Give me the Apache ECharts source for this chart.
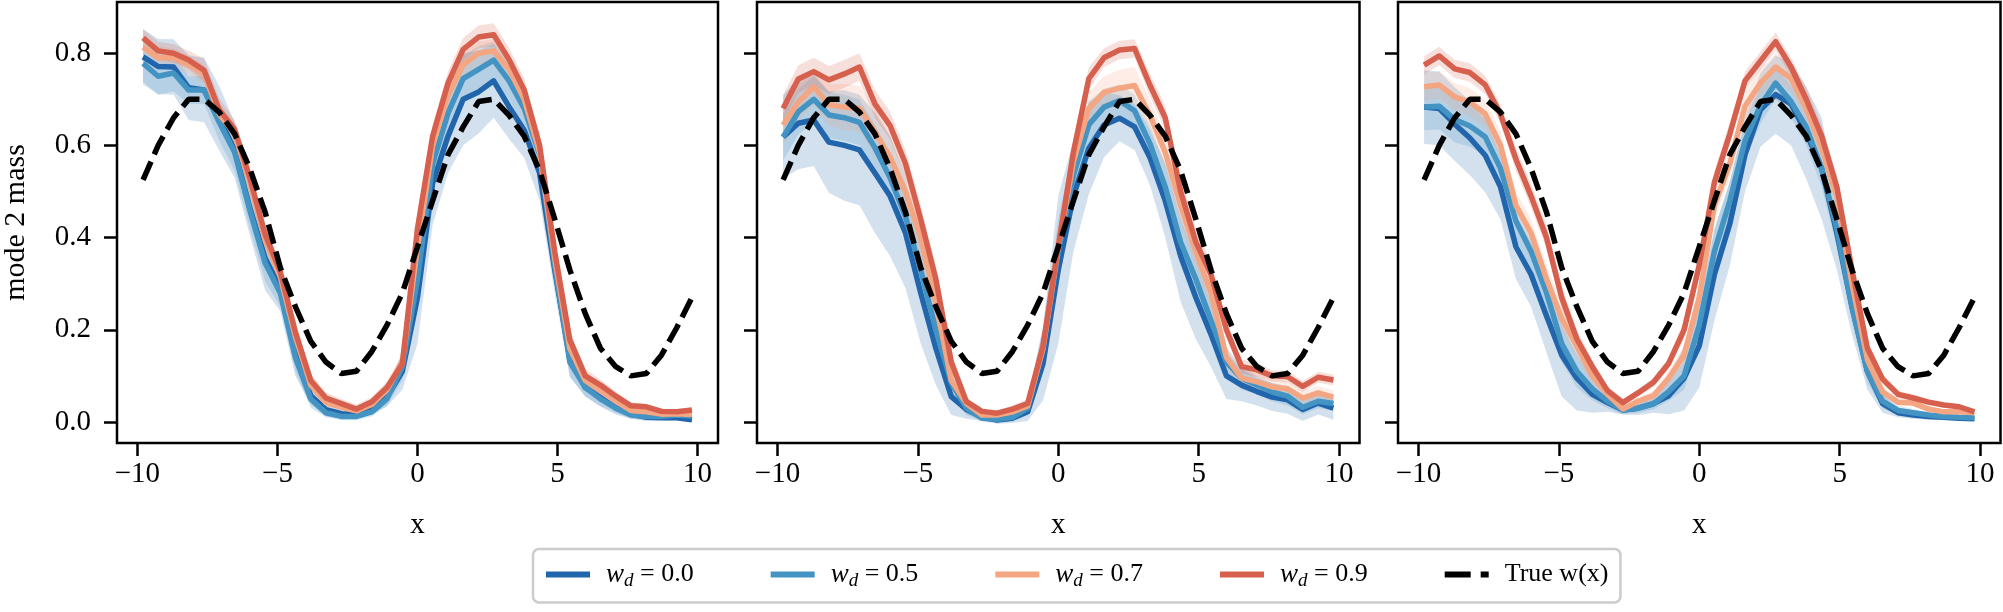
<!DOCTYPE html>
<html>
<head>
<meta charset="utf-8">
<script src="https://cdn.jsdelivr.net/npm/echarts@6/dist/echarts.min.js"></script>
<style>
html, body { margin: 0; padding: 0; background: #fff; }
#chart { width: 2003px; height: 612px; }
</style>
</head>
<body>
<div id="chart"></div>
<script>
// x grid shared by every curve
var xs = [-9.80, -9.26, -8.71, -8.17, -7.62, -7.08, -6.53, -5.99, -5.44, -4.90, -4.36, -3.81, -3.27,
    -2.72, -2.18, -1.63, -1.09, -0.54, 0.00, 0.54, 1.09, 1.63, 2.18, 2.72, 3.27, 3.81, 4.36, 4.90,
    5.44, 5.99, 6.53, 7.08, 7.62, 8.17, 8.71, 9.26, 9.80];

// true w(x), same in all three panels
var trueW = [.525, .60, .66, .70, .70, .672, .625, .55, .455, .335, .25, .175, .13, .105, .11, .153, .21, .28,
    .38, .48, .58, .64, .695, .70, .665, .62, .545, .44, .33, .235, .16, .12, .10, .105, .145, .205, .27];

// panel 1 means
var p1w0 = [.792, .771, .77, .725, .72, .659, .59, .465, .355, .29, .15, .057, .027, .018, .017, .027, .054, .11,
    .27, .518, .62, .70, .716, .74, .684, .633, .54, .33, .137, .075, .053, .031, .017, .01, .009, .009, .005];
var p1w5 = [.778, .75, .757, .72, .72, .65, .585, .46, .345, .28, .14, .05, .02, .012, .012, .022, .05, .12,
    .31, .56, .67, .745, .765, .785, .74, .68, .58, .34, .13, .075, .05, .03, .015, .012, .012, .015, .013];
var p1w7 = [.813, .79, .79, .775, .755, .668, .625, .52, .395, .315, .185, .08, .042, .032, .024, .038, .07, .13,
    .38, .60, .71, .775, .80, .805, .765, .70, .585, .355, .16, .09, .068, .045, .025, .022, .017, .018, .016];
var p1w9 = [.833, .805, .80, .785, .763, .677, .635, .53, .407, .326, .195, .09, .052, .04, .028, .044, .075, .126,
    .42, .62, .735, .808, .835, .84, .786, .72, .60, .37, .178, .10, .08, .056, .035, .033, .023, .022, .026];
// panel 1 band half widths
var e1w0 = [.06, .06, .06, .07, .07, .07, .06, .06, .07, .05, .05, .02, .015, .01, .01, .01, .02, .04,
    .1, .09, .08, .1, .09, .08, .07, .06, .06, .05, .04, .02, .02, .015, .01, .008, .006, .006, .005];
var e1w5 = [.04, .04, .04, .03, .03, .04, .04, .04, .04, .03, .03, .02, .01, .008, .008, .01, .015, .03,
    .06, .05, .05, .05, .05, .04, .04, .04, .04, .04, .03, .02, .015, .01, .008, .006, .005, .005, .005];
var e1w7 = [.025, .025, .02, .02, .02, .025, .025, .03, .03, .025, .02, .015, .01, .01, .01, .01, .015, .02,
    .03, .03, .03, .025, .025, .025, .025, .03, .03, .03, .02, .015, .01, .01, .008, .006, .005, .005, .005];
var e1w9 = [.02, .02, .02, .02, .025, .025, .02, .02, .02, .02, .02, .015, .012, .01, .01, .01, .012, .02,
    .025, .025, .025, .025, .025, .025, .025, .025, .025, .02, .02, .015, .012, .01, .008, .006, .006, .005, .005];

// panel 2 means
var p2w0 = [.618, .648, .655, .607, .60, .59, .54, .49, .41, .28, .16, .055, .027, .01, .004, .008, .022, .127,
    .33, .49, .594, .644, .659, .64, .573, .48, .36, .27, .19, .10, .08, .066, .054, .048, .027, .041, .03];
var p2w5 = [.618, .673, .70, .666, .66, .65, .595, .53, .445, .33, .20, .085, .03, .008, .006, .01, .03, .16,
    .37, .535, .645, .683, .697, .675, .603, .51, .39, .31, .22, .13, .095, .08, .065, .056, .032, .045, .04];
var p2w7 = [.644, .694, .727, .688, .683, .68, .63, .575, .50, .40, .26, .09, .04, .015, .015, .022, .035, .16,
    .38, .565, .68, .715, .724, .73, .665, .585, .47, .37, .28, .14, .095, .087, .076, .072, .052, .063, .054];
var p2w9 = [.68, .744, .76, .742, .755, .77, .69, .643, .56, .44, .31, .13, .044, .023, .019, .028, .04, .165,
    .38, .585, .745, .79, .807, .81, .73, .66, .50, .39, .32, .20, .12, .113, .10, .098, .077, .097, .091];
var e2w0 = [.09, .1, .1, .11, .12, .12, .13, .13, .12, .11, .08, .04, .02, .008, .008, .01, .02, .08,
    .16, .12, .1, .07, .05, .05, .06, .08, .1, .09, .07, .05, .035, .03, .03, .03, .025, .025, .025];
var e2w5 = [.05, .05, .05, .05, .05, .05, .05, .05, .05, .05, .04, .03, .015, .006, .006, .008, .015, .05,
    .07, .06, .05, .04, .035, .035, .04, .05, .05, .05, .04, .03, .025, .02, .02, .02, .015, .015, .015];
var e2w7 = [.04, .04, .04, .045, .05, .05, .05, .045, .04, .04, .035, .025, .012, .006, .006, .008, .012, .04,
    .05, .04, .035, .035, .04, .04, .035, .035, .04, .04, .035, .025, .02, .02, .02, .015, .015, .015, .015];
var e2w9 = [.03, .03, .03, .03, .03, .03, .03, .03, .03, .03, .03, .02, .01, .006, .006, .008, .01, .03,
    .04, .03, .025, .02, .02, .02, .025, .025, .03, .03, .025, .02, .015, .015, .012, .012, .012, .012, .012];

// panel 3 means
var p3w0 = [.683, .68, .646, .616, .578, .51, .38, .32, .23, .145, .095, .06, .042, .026, .03, .04, .057, .095,
    .165, .32, .43, .58, .677, .71, .69, .627, .55, .41, .25, .11, .04, .02, .015, .012, .01, .008, .007];
var p3w5 = [.683, .685, .656, .642, .618, .55, .436, .37, .28, .17, .11, .072, .045, .026, .03, .039, .066, .10,
    .21, .37, .48, .61, .687, .735, .695, .64, .55, .42, .25, .11, .045, .025, .02, .015, .012, .01, .009];
var p3w7 = [.727, .731, .705, .694, .668, .60, .47, .41, .31, .225, .165, .10, .06, .028, .045, .057, .095, .145,
    .27, .47, .56, .685, .735, .77, .745, .68, .595, .49, .30, .135, .065, .043, .041, .028, .022, .022, .02];
var p3w9 = [.774, .794, .766, .758, .731, .668, .57, .49, .40, .27, .18, .12, .068, .042, .063, .086, .127, .20,
    .34, .52, .625, .74, .783, .825, .77, .70, .62, .51, .33, .16, .093, .06, .052, .043, .037, .033, .022];
var e3w0 = [.08, .08, .08, .08, .08, .07, .07, .07, .08, .09, .07, .04, .02, .01, .015, .02, .04, .07,
    .09, .1, .09, .08, .08, .085, .09, .1, .11, .08, .06, .04, .02, .01, .008, .007, .006, .005, .005];
var e3w5 = [.05, .05, .05, .045, .04, .04, .04, .04, .04, .04, .035, .025, .015, .01, .01, .012, .02, .03,
    .04, .045, .045, .04, .04, .035, .035, .04, .04, .04, .035, .025, .015, .01, .008, .006, .005, .005, .005];
var e3w7 = [.03, .03, .03, .03, .03, .03, .03, .03, .03, .03, .025, .02, .012, .008, .008, .01, .015, .02,
    .03, .03, .03, .03, .03, .03, .03, .03, .03, .03, .025, .02, .012, .008, .006, .006, .005, .005, .005];
var e3w9 = [.02, .02, .02, .02, .02, .02, .025, .025, .025, .025, .02, .015, .01, .008, .008, .01, .012, .02,
    .025, .025, .025, .02, .02, .02, .02, .025, .025, .025, .02, .015, .012, .008, .008, .006, .006, .005, .005];

var xTicks = [-10, -5, 0, 5, 10];
var yTicks = [0, 0.2, 0.4, 0.6, 0.8];
var seriesNames = ['w0', 'w5', 'w7', 'w9'];
var labelNums = ['0.0', '0.5', '0.7', '0.9'];

var colors = ['#2166ac', '#4393c3', '#f4a582', '#d6604d'];
var fills = ['rgba(33,102,172,0.2)', 'rgba(67,147,195,0.2)', 'rgba(244,165,130,0.2)', 'rgba(214,96,77,0.2)'];
var font = 'Liberation Serif';
var dash = [20, 8];

var panels = [
    { lines: [p1w0, p1w5, p1w7, p1w9], errs: [e1w0, e1w5, e1w7, e1w9] },
    { lines: [p2w0, p2w5, p2w7, p2w9], errs: [e2w0, e2w5, e2w7, e2w9] },
    { lines: [p3w0, p3w5, p3w7, p3w9], errs: [e3w0, e3w5, e3w7, e3w9] }
];
var gridLefts = [115.5, 757, 1398];

function pairs(vals) {
    return xs.map(function (x, i) { return [x, vals[i]]; });
}

function band(p, vals, errs, fill) {
    var rows = xs.map(function (x, i) { return [x, vals[i] - errs[i], vals[i] + errs[i]]; });
    return {
        type: 'custom', xAxisIndex: p, yAxisIndex: p, silent: true, z: 1,
        encode: { x: 0, y: [1, 2] },
        data: rows,
        renderItem: function (params, api) {
            if (params.dataIndex !== 0) return;
            var up = [], dn = [];
            for (var i = 0; i < rows.length; i++) {
                up.push(api.coord([rows[i][0], rows[i][2]]));
                dn.unshift(api.coord([rows[i][0], rows[i][1]]));
            }
            return { type: 'polygon', shape: { points: up.concat(dn) }, style: { fill: fill } };
        }
    };
}

var grids = [], xAxes = [], yAxes = [], series = [];
panels.forEach(function (pan, p) {
    grids.push({
        left: gridLefts[p], top: 2, width: 602.5, height: 441,
        show: true, borderColor: '#000', borderWidth: 2.5, backgroundColor: 'transparent'
    });
    xAxes.push({
        gridIndex: p, type: 'value', min: -10.73, max: 10.73, position: 'bottom',
        name: 'x', nameLocation: 'middle', nameGap: 68,
        nameTextStyle: { fontFamily: font, fontSize: 29, color: '#000' },
        axisLine: { show: false, onZero: false },
        axisTick: { show: true, customValues: xTicks, length: 13, lineStyle: { color: '#000', width: 2.5 } },
        axisLabel: {
            customValues: xTicks, margin: 17, color: '#000', fontFamily: font, fontSize: 29,
            formatter: function (v) { return v < 0 ? '\u2212' + Math.abs(v) : String(v); }
        },
        splitLine: { show: false }
    });
    yAxes.push({
        gridIndex: p, type: 'value', min: -0.0456, max: 0.911, position: 'left',
        name: p === 0 ? 'mode 2 mass' : '', nameLocation: 'middle', nameGap: 86,
        nameTextStyle: { fontFamily: font, fontSize: 30, color: '#000' },
        axisLine: { show: false, onZero: false },
        axisTick: { show: true, customValues: yTicks, length: 13, lineStyle: { color: '#000', width: 2.5 } },
        axisLabel: {
            show: p === 0, customValues: yTicks, margin: 26, color: '#000', fontFamily: font, fontSize: 29,
            formatter: function (v) { return v.toFixed(1); }
        },
        splitLine: { show: false }
    });
    pan.lines.forEach(function (vals, i) {
        series.push(band(p, vals, pan.errs[i], fills[i]));
    });
    pan.lines.forEach(function (vals, i) {
        series.push({
            name: seriesNames[i], type: 'line', xAxisIndex: p, yAxisIndex: p, z: 2,
            data: pairs(vals), showSymbol: false, symbol: 'none', silent: true,
            color: colors[i],
            lineStyle: { color: colors[i], width: 5.5, join: 'round', cap: 'butt' }
        });
    });
    series.push({
        name: 'true', type: 'line', xAxisIndex: p, yAxisIndex: p, z: 3,
        data: pairs(trueW), showSymbol: false, symbol: 'none', silent: true,
        color: '#000',
        lineStyle: { color: '#000', width: 5.5, type: dash, cap: 'butt' }
    });
});

var legendData = seriesNames.map(function (n, i) {
    return { name: n, itemStyle: { opacity: 0 }, lineStyle: { color: colors[i], width: 6, type: 'solid' } };
});
legendData.push({ name: 'true', itemStyle: { opacity: 0 }, lineStyle: { color: '#000', width: 6, type: [26, 10] } });

var chart = echarts.init(document.getElementById('chart'));
chart.setOption({
    animation: false,
    backgroundColor: '#fff',
    grid: grids,
    xAxis: xAxes,
    yAxis: yAxes,
    legend: {
        data: legendData,
        left: 533, top: 549,
        padding: [12, 12, 12, 10],
        itemWidth: 44, itemHeight: 14, itemGap: 74,
        selectedMode: false,
        borderColor: '#cccccc', borderWidth: 2.5, borderRadius: 6,
        formatter: function (name) {
            if (name === 'true') return '{sp|}{rm|True w(x)}';
            return '{sp|}{it|w}{sub|d}{rm| = ' + labelNums[seriesNames.indexOf(name)] + '}';
        },
        textStyle: {
            color: '#000', fontFamily: font, fontSize: 26,
            rich: {
                sp: { width: 11 },
                it: { fontFamily: font, fontStyle: 'italic', fontSize: 27, lineHeight: 32, color: '#000' },
                sub: { fontFamily: font, fontStyle: 'italic', fontSize: 19, lineHeight: 20, verticalAlign: 'bottom', color: '#000' },
                rm: { fontFamily: font, fontSize: 26, lineHeight: 32, color: '#000' }
            }
        }
    },
    series: series
});
</script>
</body>
</html>
